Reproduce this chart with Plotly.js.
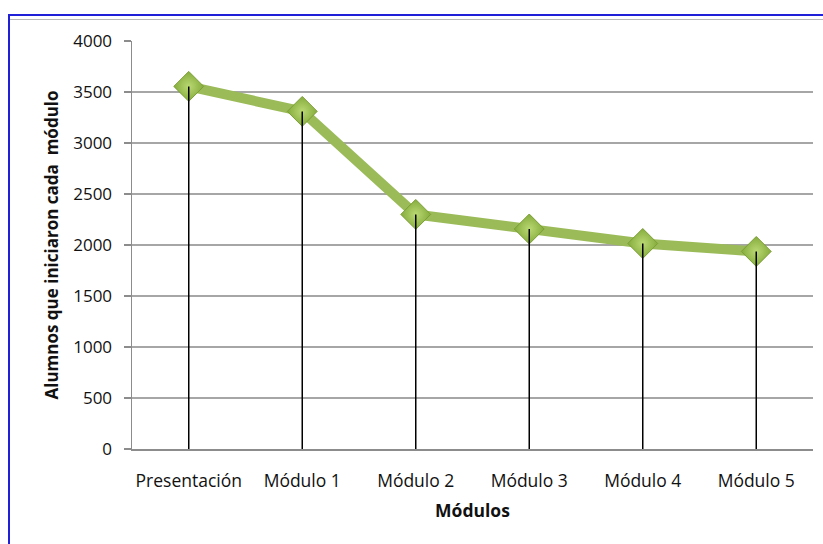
<!DOCTYPE html>
<html>
<head>
<meta charset="utf-8">
<script src="https://cdn.plot.ly/plotly-3.0.1.min.js"></script>
<style>
html,body{margin:0;padding:0;background:#fff;}
#wrap{position:relative;width:823px;height:544px;overflow:hidden;}
#frame{position:absolute;left:8px;top:14px;width:900px;height:600px;border-left:2px solid #2020d8;border-top:2px solid #2020d8;}
#cells{position:absolute;left:10px;top:19px;width:900px;height:0;border-top:1px solid #b8b8b8;}
#chart{position:absolute;left:0;top:0;width:823px;height:544px;}
</style>
</head>
<body>
<div id="wrap">
<div id="frame"></div>
<div id="cells"></div>
<div id="chart"></div>
</div>
<script>
const categories = ["Presentación", "Módulo 1", "Módulo 2", "Módulo 3", "Módulo 4", "Módulo 5"];
const alumnos = [3555, 3310, 2300, 2157, 2015, 1937];
const yTicks = [0, 500, 1000, 1500, 2000, 2500, 3000, 3500, 4000];

const dropX = [], dropY = [];
categories.forEach((c, i) => { dropX.push(c, c, null); dropY.push(alumnos[i], 0, null); });

const font = "'Open Sans', 'DejaVu Sans', sans-serif";

const traces = [
  {
    x: categories, y: alumnos, type: 'scatter', mode: 'lines+markers',
    line: {color: '#9BBB59', width: 10},
    marker: {symbol: 'diamond', size: 23, color: '#86AC3C',
      gradient: {type: 'radial', color: '#B9D873'},
      line: {color: '#7A9E34', width: 1}},
    hoverinfo: 'x+y', showlegend: false
  },
  {
    x: dropX, y: dropY, type: 'scatter', mode: 'lines',
    line: {color: '#000000', width: 1.5},
    hoverinfo: 'skip', showlegend: false
  }
];

const layout = {
  width: 823, height: 544,
  paper_bgcolor: 'rgba(0,0,0,0)', plot_bgcolor: 'rgba(0,0,0,0)',
  margin: {l: 132, r: 10, t: 41, b: 95, pad: 0},
  font: {family: font, size: 16, color: '#000'},
  xaxis: {
    type: 'category', range: [-0.5, 5.5], fixedrange: true,
    showline: true, linecolor: '#8C8C8C', linewidth: 1.5,
    showgrid: false, zeroline: false, ticks: '',
    ticklabelstandoff: 15,
    tickfont: {family: font, size: 17.5, color: '#111'},
    title: {text: '<b>Módulos</b>', font: {family: font, size: 17.5, color: '#111'}, standoff: 14}
  },
  yaxis: {
    range: [0, 4000], tickvals: yTicks, ticktext: yTicks.map(String),
    showline: true, linecolor: '#8C8C8C', linewidth: 1.5,
    ticks: 'outside', ticklen: 7, tickcolor: '#8C8C8C', tickwidth: 1.5,
    showgrid: true, gridcolor: '#A6A6A6', gridwidth: 1.5, zeroline: false,
    ticklabelstandoff: 8,
    tickfont: {family: font, size: 17, color: '#111'},
    title: {text: '<b>Alumnos que iniciaron cada  módulo</b>', font: {family: font, size: 17, color: '#111'}, standoff: 10},
    fixedrange: true
  }
};

Plotly.newPlot('chart', traces, layout, {displayModeBar: false, staticPlot: true});
</script>
</body>
</html>
